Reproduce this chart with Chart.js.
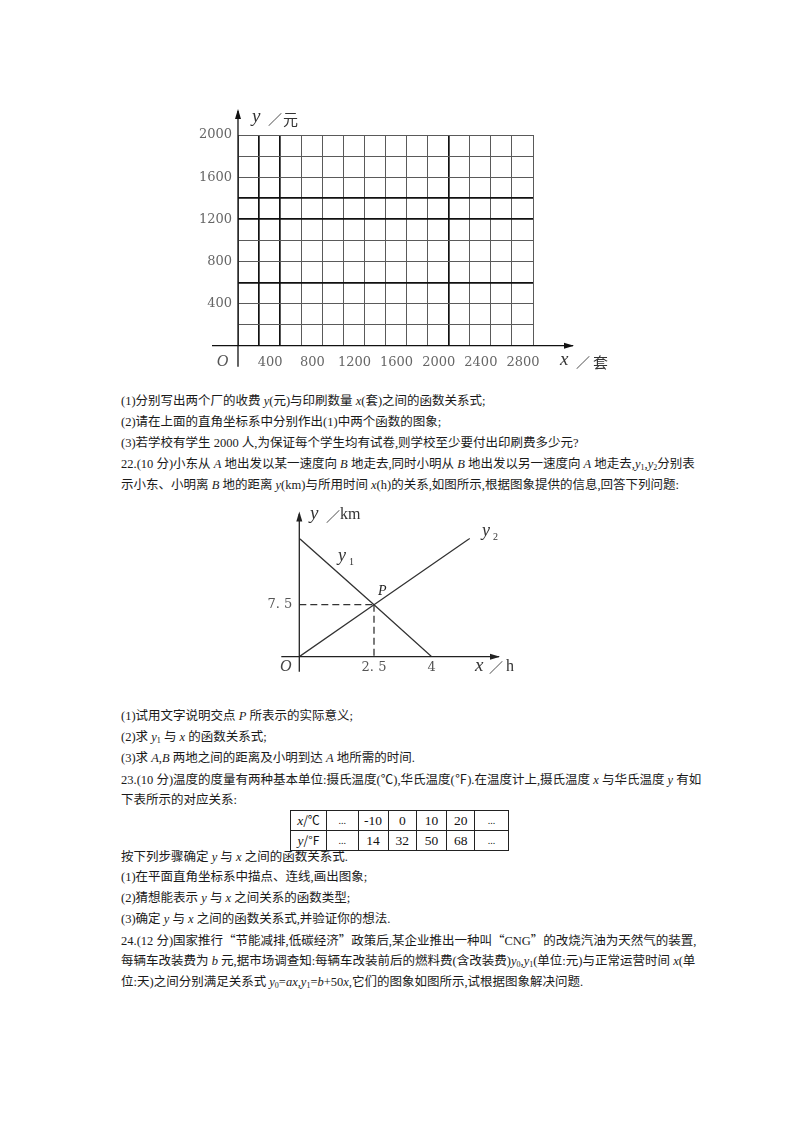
<!DOCTYPE html>
<html><head><meta charset="utf-8">
<script src="https://cdn.jsdelivr.net/npm/chart.js@4.4.1/dist/chart.umd.min.js"></script>
<style>
html,body{margin:0;padding:0;background:#fff;}
#page{position:relative;width:800px;height:1132px;overflow:hidden;background:#fff;}
canvas{position:absolute;}
.ln{position:absolute;left:121px;height:20px;line-height:20px;white-space:nowrap;font-family:"Liberation Serif","Noto Sans CJK SC",serif;font-size:12.5px;color:#1a1a1a;}
.ln i{font-family:"Liberation Serif";font-style:italic;}
.ln sub{font-size:8px;vertical-align:-2px;line-height:0;font-family:"Liberation Serif";}
.cj{font-family:"Noto Sans CJK SC";}
#tbl{position:absolute;left:290px;top:810px;width:211px;table-layout:fixed;border-collapse:collapse;font-family:"Liberation Serif","Noto Sans CJK SC",serif;font-size:13.5px;color:#111;}
#tbl td{border:1px solid #222;height:18px;padding:0;text-align:center;line-height:18px;overflow:hidden;white-space:nowrap;}
#tbl td.h{font-family:"Noto Sans CJK SC";font-size:12px;}
#tbl td.h i{font-family:"Liberation Serif";font-size:13.5px;}
#tbl td.d{font-size:10px;}
</style></head><body>
<div id="page">
<canvas id="fee" width="430" height="290" style="left:190px;top:95px"></canvas>

<div class="ln" style="top:391px">(1)分别写出两个厂的收费 <i>y</i>(元)与印刷数量 <i>x</i>(套)之间的函数关系式;</div>
<div class="ln" style="top:412px">(2)请在上面的直角坐标系中分别作出(1)中两个函数的图象;</div>
<div class="ln" style="top:433px">(3)若学校有学生 2000 人,为保证每个学生均有试卷,则学校至少要付出印刷费多少元?</div>
<div class="ln" style="top:454px">22.(10 分)小东从 <i>A</i> 地出发以某一速度向 <i>B</i> 地走去,同时小明从 <i>B</i> 地出发以另一速度向 <i>A</i> 地走去,<i>y</i><sub>1</sub>,<i>y</i><sub>2</sub>分别表</div>
<div class="ln" style="top:475px">示小东、小明离 <i>B</i> 地的距离 <i>y</i>(km)与所用时间 <i>x</i>(h)的关系,如图所示,根据图象提供的信息,回答下列问题:</div>

<canvas id="walk" width="280" height="190" style="left:250px;top:500px"></canvas>

<div class="ln" style="top:706px">(1)试用文字说明交点 <i>P</i> 所表示的实际意义;</div>
<div class="ln" style="top:727px">(2)求 <i>y</i><sub>1</sub> 与 <i>x</i> 的函数关系式;</div>
<div class="ln" style="top:748px">(3)求 <i>A</i>,<i>B</i> 两地之间的距离及小明到达 <i>A</i> 地所需的时间.</div>
<div class="ln" style="top:769px">23.(10 分)温度的度量有两种基本单位:摄氏温度(<span class="cj">℃</span>),华氏温度(<span class="cj">℉</span>).在温度计上,摄氏温度 <i>x</i> 与华氏温度 <i>y</i> 有如</div>
<div class="ln" style="top:790px">下表所示的对应关系:</div>

<table id="tbl"></table>

<div class="ln" style="top:847px">按下列步骤确定 <i>y</i> 与 <i>x</i> 之间的函数关系式.</div>
<div class="ln" style="top:867px">(1)在平面直角坐标系中描点、连线,画出图象;</div>
<div class="ln" style="top:888px">(2)猜想能表示 <i>y</i> 与 <i>x</i> 之间关系的函数类型;</div>
<div class="ln" style="top:909px">(3)确定 <i>y</i> 与 <i>x</i> 之间的函数关系式,并验证你的想法.</div>
<div class="ln" style="top:930px">24.(12 分)国家推行<span class="cj">“</span>节能减排,低碳经济<span class="cj">”</span>政策后,某企业推出一种叫<span class="cj">“</span>CNG<span class="cj">”</span>的改烧汽油为天然气的装置,</div>
<div class="ln" style="top:951px">每辆车改装费为 <i>b</i> 元,据市场调查知:每辆车改装前后的燃料费(含改装费)<i>y</i><sub>0</sub>,<i>y</i><sub>1</sub>(单位:元)与正常运营时间 <i>x</i>(单</div>
<div class="ln" style="top:972px">位:天)之间分别满足关系式 <i>y</i><sub>0</sub>=<i>ax</i>,<i>y</i><sub>1</sub>=<i>b</i>+50<i>x</i>,它们的图象如图所示,试根据图象解决问题.</div>
</div>

<script>
// ================= DATA =================
// Chart 1: empty grid (fee y 元 vs copies x 套)
const feeGridX = [0,200,400,600,800,1000,1200,1400,1600,1800,2000,2200,2400,2600,2800];
const feeGridY = [0,200,400,600,800,1000,1200,1400,1600,1800,2000];
const feeLabelX = [400,800,1200,1600,2000,2400,2800];
const feeLabelY = [400,800,1200,1600,2000];

// Chart 2: distance y (km) vs time x (h)
const walkTicksX = [2.5, 4];
const walkTicksY = [7.5];
const y1Data = [{x:0,y:20},{x:2.5,y:7.5},{x:4,y:0}];
const y2Data = [{x:0,y:0},{x:2.5,y:7.5},{x:5,y:20}];
const pointP = {x:2.5, y:7.5};

// Table: Celsius vs Fahrenheit
const tempC = [-10, 0, 10, 20];
const tempF = [14, 32, 50, 68];

// ================= STYLE =================
const thickX = [200, 400, 2000];
const thickY = [600, 1200, 1400];
// schematic (not-to-scale) axis mapping of the second figure: [value, fraction of axis]
const SCALE_STOPS = {
  x: [[0,0],[2.5,0.4376],[4,0.7756],[5,1]],
  y: [[0,0],[7.5,0.4392],[20,1]]
};

// ================= TABLE =================
(function(){
  const t = document.getElementById('tbl');
  const widths = [35,30.6,29,27.4,29,27.3,32.3];
  const mk = (head, vals) => {
    const tr = document.createElement('tr');
    const cells = [head, '...', ...vals.map(String), '...'];
    cells.forEach((c,i) => {
      const td = document.createElement('td');
      td.style.width = widths[i] + 'px';
      if (i === 0) { td.className = 'h'; td.innerHTML = c; }
      else { td.textContent = c; if (c === '...') td.className = 'd'; }
      tr.appendChild(td);
    });
    t.appendChild(tr);
  };
  mk('<i>x</i>/℃', tempC);
  mk('<i>y</i>/°F', tempF);
})();

// ================= HELPERS =================
function arrow(ctx, x, y, dir) {
  ctx.save();
  ctx.beginPath();
  if (dir === 'up') { ctx.moveTo(x, y); ctx.lineTo(x-3, y+10); ctx.lineTo(x+3, y+10); }
  else { ctx.moveTo(x, y); ctx.lineTo(x-10, y-3); ctx.lineTo(x-10, y+3); }
  ctx.closePath();
  ctx.fill();
  ctx.restore();
}
function txt(ctx, s, x, y, font, color, align) {
  ctx.font = font; ctx.fillStyle = color; ctx.textAlign = align || 'left'; ctx.textBaseline = 'middle';
  ctx.fillText(s, x, y);
}

class PiecewiseScale extends Chart.LinearScale {
  static id = 'piecewise';
  getPixelForValue(value) {
    if (value === null || value === undefined) return NaN;
    const s = SCALE_STOPS[this.id];
    let i = 0;
    while (i < s.length - 2 && value > s[i+1][0]) i++;
    const [v0,d0] = s[i], [v1,d1] = s[i+1];
    const dec = d0 + (value - v0) / (v1 - v0) * (d1 - d0);
    return this.getPixelForDecimal(dec);
  }
}
Chart.register(PiecewiseScale);

// ================= CHART 1 =================
const feeAxes = {
  id: 'feeAxes',
  afterDraw(chart) {
    const ctx = chart.ctx, xs = chart.scales.x, ys = chart.scales.y;
    const ox = xs.getPixelForValue(0), oy = ys.getPixelForValue(0);
    ctx.save();
    ctx.strokeStyle = '#111'; ctx.fillStyle = '#111'; ctx.lineWidth = 1.3;
    ctx.beginPath(); ctx.moveTo(ox - 26, oy); ctx.lineTo(383, oy); ctx.stroke();
    arrow(ctx, 384, oy, 'right');
    ctx.beginPath(); ctx.moveTo(ox, oy + 21); ctx.lineTo(ox, 16); ctx.stroke();
    arrow(ctx, ox, 14, 'up');
    txt(ctx, 'y', 62, 22, 'italic 19px "Liberation Serif"', '#333');
    txt(ctx, '／', 78, 24, '14px "Noto Sans CJK SC"', '#444');
    txt(ctx, '元', 93, 24, '15px "Noto Sans CJK SC"', '#333');
    txt(ctx, 'O', ox - 15.5, oy + 16.5, 'italic 16px "Liberation Serif"', '#555', 'center');
    txt(ctx, 'x', 370, 265, 'italic 19px "Liberation Serif"', '#333');
    txt(ctx, '／', 386, 267, '14px "Noto Sans CJK SC"', '#444');
    txt(ctx, '套', 403, 267, '15px "Noto Sans CJK SC"', '#333');
    ctx.restore();
  }
};

new Chart(document.getElementById('fee'), {
  type: 'scatter',
  data: { datasets: [{ data: [] }] },
  options: {
    responsive: false, animation: false, events: [],
    plugins: { legend: { display: false }, tooltip: { enabled: false } },
    layout: { padding: { left: 0, right: 87, top: 40, bottom: 0 } },
    scales: {
      x: {
        type: 'linear', min: 0, max: 2800,
        afterBuildTicks: s => { s.ticks = feeGridX.map(v => ({ value: v })); },
        afterFit: s => { s.height = 39.3; },
        border: { display: false },
        grid: {
          drawTicks: false,
          color: c => (c.tick && thickX.includes(c.tick.value)) ? '#111' : '#5a5a5a',
          lineWidth: c => (c.tick && thickX.includes(c.tick.value)) ? 1.7 : 1
        },
        ticks: {
          autoSkip: false, maxRotation: 0, padding: 9, labelOffset: -10,
          font: { family: 'DejaVu Serif', size: 13 }, color: '#666',
          callback: v => feeLabelX.includes(v) ? String(v) : ''
        }
      },
      y: {
        type: 'linear', min: 0, max: 2000,
        afterBuildTicks: s => { s.ticks = feeGridY.map(v => ({ value: v })); },
        afterFit: s => { s.width = 48; },
        border: { display: false },
        grid: {
          drawTicks: false,
          color: c => (c.tick && thickY.includes(c.tick.value)) ? '#111' : '#5a5a5a',
          lineWidth: c => (c.tick && thickY.includes(c.tick.value)) ? 1.7 : 1
        },
        ticks: {
          autoSkip: false, padding: 6,
          font: { family: 'DejaVu Serif', size: 13 }, color: '#666',
          callback: v => feeLabelY.includes(v) ? String(v) : ''
        }
      }
    }
  },
  plugins: [feeAxes]
});

// ================= CHART 2 =================
const walkAxes = {
  id: 'walkAxes',
  afterDraw(chart) {
    const ctx = chart.ctx, xs = chart.scales.x, ys = chart.scales.y;
    const ox = xs.getPixelForValue(0), oy = ys.getPixelForValue(0);
    const px = xs.getPixelForValue(pointP.x), py = ys.getPixelForValue(pointP.y);
    ctx.save();
    ctx.strokeStyle = '#222'; ctx.fillStyle = '#222'; ctx.lineWidth = 1.3;
    ctx.beginPath(); ctx.moveTo(ox - 18, oy); ctx.lineTo(249, oy); ctx.stroke();
    arrow(ctx, 250, oy, 'right');
    ctx.beginPath(); ctx.moveTo(ox, oy + 15); ctx.lineTo(ox, 14); ctx.stroke();
    arrow(ctx, ox, 11.5, 'up');
    txt(ctx, 'y', 60, 14, 'italic 19px "Liberation Serif"', '#333');
    txt(ctx, '／', 76, 16, '14px "Noto Sans CJK SC"', '#444');
    txt(ctx, 'km', 90, 15, '16px "Liberation Serif"', '#333');
    txt(ctx, 'y', 88, 56, 'italic 18px "Liberation Serif"', '#333');
    txt(ctx, '1', 99, 62, '10px "Liberation Serif"', '#333');
    txt(ctx, 'y', 232, 31, 'italic 18px "Liberation Serif"', '#333');
    txt(ctx, '2', 243, 37, '10px "Liberation Serif"', '#333');
    txt(ctx, 'P', px + 4, py - 13, 'italic 14px "Liberation Serif"', '#222');
    txt(ctx, 'O', ox - 13.5, oy + 10, 'italic 16px "Liberation Serif"', '#444', 'center');
    txt(ctx, 'x', 225, oy + 9, 'italic 19px "Liberation Serif"', '#333');
    txt(ctx, '／', 239, oy + 10, '14px "Noto Sans CJK SC"', '#444');
    txt(ctx, 'h', 256, oy + 10, '16px "Liberation Serif"', '#333');
    ctx.restore();
  }
};

const lineStyle = { showLine: true, borderColor: '#333', borderWidth: 1.3, pointRadius: 0, fill: false };
new Chart(document.getElementById('walk'), {
  type: 'scatter',
  data: {
    datasets: [
      Object.assign({ data: y1Data }, lineStyle),
      Object.assign({ data: y2Data }, lineStyle),
      Object.assign({ data: [{ x: 0, y: pointP.y }, pointP], borderDash: [7, 4] }, lineStyle),
      Object.assign({ data: [pointP, { x: pointP.x, y: 0 }], borderDash: [7, 4] }, lineStyle)
    ]
  },
  options: {
    responsive: false, animation: false, events: [],
    plugins: { legend: { display: false }, tooltip: { enabled: false } },
    layout: { padding: { left: 0, right: 60, top: 38.3, bottom: 0 } },
    scales: {
      x: {
        type: 'piecewise', min: 0, max: 5,
        afterBuildTicks: s => { s.ticks = walkTicksX.map(v => ({ value: v })); },
        afterFit: s => { s.height = 33.3; },
        border: { display: false }, grid: { display: false, drawTicks: false },
        ticks: {
          autoSkip: false, maxRotation: 0, padding: 3,
          font: { family: 'DejaVu Serif', size: 13 }, color: '#555',
          callback: v => String(v).replace('.', '. ')
        }
      },
      y: {
        type: 'piecewise', min: 0, max: 20,
        afterBuildTicks: s => { s.ticks = walkTicksY.map(v => ({ value: v })); },
        afterFit: s => { s.width = 49.3; },
        border: { display: false }, grid: { display: false, drawTicks: false },
        ticks: {
          autoSkip: false, padding: 7,
          font: { family: 'DejaVu Serif', size: 13 }, color: '#555',
          callback: v => String(v).replace('.', '. ')
        }
      }
    }
  },
  plugins: [walkAxes]
});
</script>
</body></html>
